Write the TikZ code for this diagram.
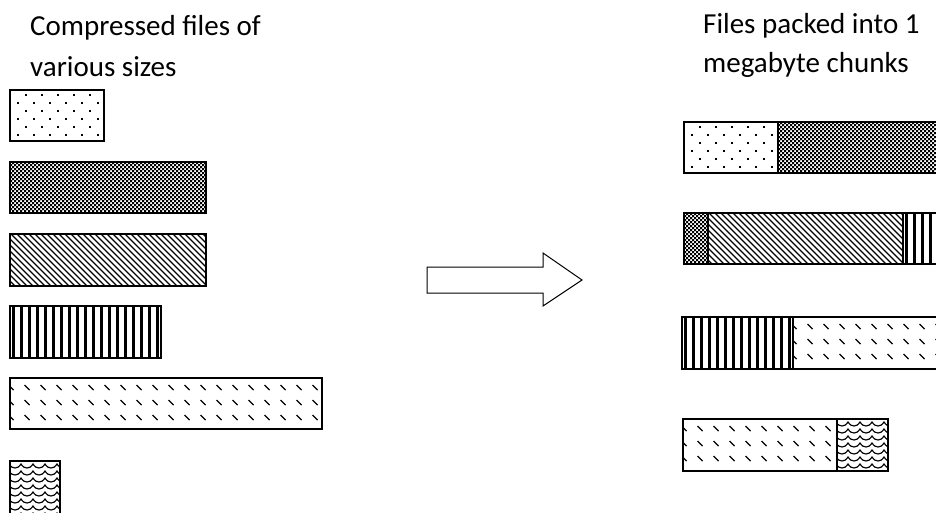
\documentclass[tikz,border=0pt]{standalone}
\usepackage{fontspec}
\setmainfont{Carlito}

% fill helpers: #1,#2 = top-left corner, #3,#4 = bottom-right corner (pixel units)
\newcommand\patDots[4]{\begin{scope}\clip (#1,#2) rectangle (#3,#4);
  \foreach \r in {0,...,7}{%
    \pgfmathsetmacro\yy{#2+4+8*\r}%
    \pgfmathsetmacro\xo{#1+7+8*mod(\r+1,2)}%
    \foreach \x in {0,16,...,112}{\fill (\xo+\x,\yy) rectangle ++(2,2);}}
  \end{scope}}
\newcommand\patCheck[4]{\begin{scope}\clip (#1,#2) rectangle (#3,#4);
  \fill[even odd rule]
    \foreach \x in {0,4,...,332}{(#1+\x,#2) rectangle ++(2,60)}
    \foreach \y in {0,4,...,60}{(#1,#2+\y) rectangle ++(332,2)};
  \end{scope}}
\newcommand\patDiag[4]{\begin{scope}\clip (#1,#2) rectangle (#3,#4);
  \foreach \x in {-60,-54,...,336}{\draw[line width=1.25pt] (#1+\x,#2-1) -- ++(62,62);}
  \end{scope}}
\newcommand\patVert[4]{\begin{scope}\clip (#1,#2) rectangle (#3,#4);
  \foreach \x in {2,10,...,330}{\fill (#1+\x,#2-1) rectangle ++(3.2,60);}
  \end{scope}}
\newcommand\patDash[4]{\begin{scope}\clip (#1,#2) rectangle (#3,#4);
  \foreach \r in {0,1,2,3}{%
    \foreach \x in {0,16,...,330}{\draw[line width=1.4pt] (#1+\x-1.5,#2-8+15*\r) -- ++(5,5);}}
  \end{scope}}
\newcommand\patWave[4]{\begin{scope}\clip (#1,#2) rectangle (#3,#4);
  \foreach \r in {0,...,8}{%
    \draw[line width=1.15pt] (#1-1,#2+3+7*\r)
      \foreach \k in {1,...,6}{ .. controls +(2,3) and +(-2.2,0) .. ++(6,4)
                                .. controls +(2.2,0) and +(-2,3) .. ++(6,-4)};}
  \end{scope}}

\begin{document}
\begin{tikzpicture}[x=1pt,y=-1pt,
  filebox/.style={draw=black,line width=1.6pt},
  heading/.style={anchor=base west,inner sep=0pt,font=\fontsize{29}{35}\selectfont},
  bigarrow/.style={draw=black,line width=1pt,fill=white,line join=miter}]
\useasboundingbox (0,0) rectangle (936,512);
\clip (0,0) rectangle (936,512);

% headings
\node[heading] (lefttitleA) at (30,35) {Compressed files of};
\node[heading] (lefttitleB) at (30,76) {various sizes};
\node[heading] (righttitleA) at (703,33) {Files packed into 1};
\node[heading] (righttitleB) at (703,72) {megabyte chunks};

% left: individual files
\patDots{10}{90}{104}{141}    \draw[filebox] (10,90)  rectangle (104,141);
\patCheck{10}{162}{206}{213}  \draw[filebox] (10,162) rectangle (206,213);
\patDiag{10}{234}{206}{286}   \draw[filebox] (10,234) rectangle (206,286);
\patVert{10}{306}{161}{358}   \draw[filebox] (10,306) rectangle (161,358);
\patDash{10}{378}{322}{429}   \draw[filebox] (10,378) rectangle (322,429);
\patWave{10}{461}{60}{520}    \draw[filebox] (10,461) rectangle (60,520);

% arrow
\draw[bigarrow] (427,267) -- (543,267) -- (543,253) -- (582,280) -- (543,306) -- (543,293) -- (427,293) -- cycle;

% right: packed chunks
\patDots{684}{122}{778}{173}   \draw[filebox] (684,122) rectangle (778,173);
\patCheck{778}{122}{945}{173}  \draw[filebox] (778,122) rectangle (945,173);

\patCheck{684}{213}{708}{264}  \draw[filebox] (684,213) rectangle (708,264);
\patDiag{708}{213}{903}{264}   \draw[filebox] (708,213) rectangle (903,264);
\patVert{903}{213}{945}{264}   \draw[filebox] (903,213) rectangle (945,264);

\patVert{682}{317}{793}{369}   \draw[filebox] (682,317) rectangle (793,369);
\patDash{793}{317}{945}{369}   \draw[filebox] (793,317) rectangle (945,369);

\patDash{683}{419}{837}{471}   \draw[filebox] (683,419) rectangle (837,471);
\patWave{837}{419}{888}{471}   \draw[filebox] (837,419) rectangle (888,471);
\end{tikzpicture}
\end{document}
